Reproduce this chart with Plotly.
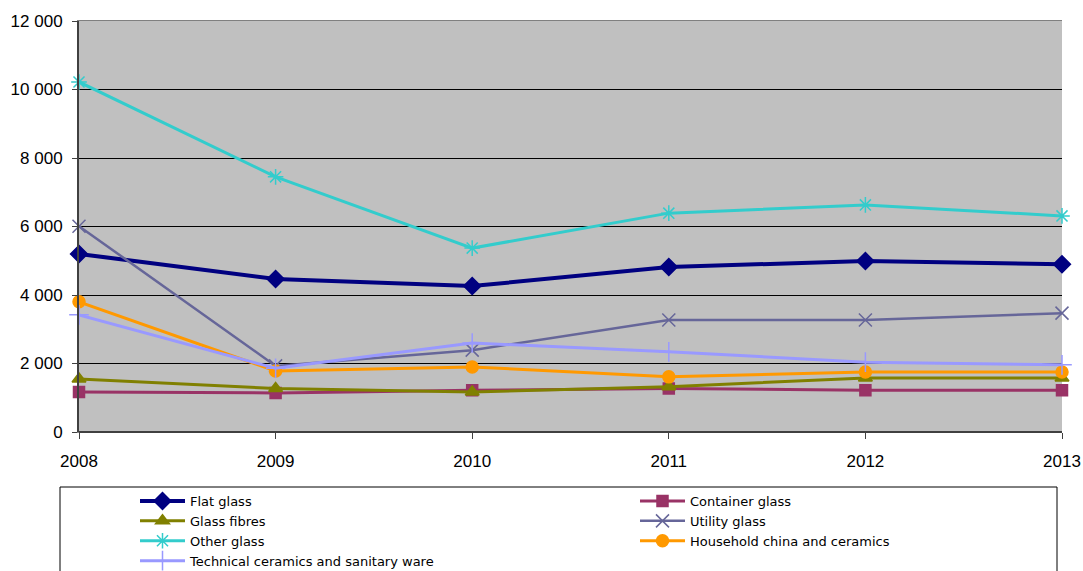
import plotly.graph_objects as go

years = [2008, 2009, 2010, 2011, 2012, 2013]

flat_glass = [5200, 4470, 4260, 4820, 4990, 4900]
container_glass = [1170, 1140, 1220, 1270, 1220, 1220]
glass_fibres = [1550, 1270, 1170, 1320, 1580, 1580]
utility_glass = [6010, 1930, 2390, 3270, 3270, 3470]
other_glass = [10220, 7450, 5370, 6390, 6630, 6310]
household_china = [3800, 1780, 1900, 1610, 1750, 1750]
technical_ceramics = [3420, 1860, 2600, 2340, 2040, 1960]

y_ticks = [0, 2000, 4000, 6000, 8000, 10000, 12000]
y_tick_labels = ["0", "2 000", "4 000", "6 000", "8 000", "10 000", "12 000"]

# name, values, colour, line width, marker symbol, marker size, legend column
series = [
    ("Flat glass", flat_glass, "#000080", 4, "diamond", 13, "legend"),
    ("Container glass", container_glass, "#993366", 3, "square", 11, "legend2"),
    ("Glass fibres", glass_fibres, "#808000", 3, "triangle-up", 12, "legend"),
    ("Utility glass", utility_glass, "#666699", 2.5, "x-thin-open", 13, "legend2"),
    ("Other glass", other_glass, "#33CCCC", 3, "asterisk-open", 13, "legend"),
    ("Household china and ceramics", household_china, "#FF9900", 3, "circle", 12, "legend2"),
    ("Technical ceramics and sanitary ware", technical_ceramics, "#9999FF", 3, "cross-thin-open", 14, "legend"),
]

fig = go.Figure()
for name, vals, color, width, symbol, size, leg in series:
    fig.add_trace(go.Scatter(
        x=years, y=vals, name=name, mode="lines+markers",
        line=dict(color=color, width=width),
        marker=dict(symbol=symbol, size=size, color=color,
                    line=dict(color=color, width=1.5)),
        cliponaxis=False,
        legend=leg,
    ))

L, R, T, B = 79, 1062, 21, 432
W, H = 1083, 571

legend_style = dict(
    orientation="v",
    xref="container", yref="container",
    xanchor="left", yanchor="top",
    itemwidth=45,
    tracegroupgap=0,
    font=dict(family="DejaVu Sans, sans-serif", size=13),
    bgcolor="rgba(0,0,0,0)",
    borderwidth=0,
)

fig.update_layout(
    width=W, height=H,
    margin=dict(l=L, r=W - R, t=T, b=H - B, autoexpand=False),
    paper_bgcolor="white",
    plot_bgcolor="#C0C0C0",
    font=dict(family="Liberation Sans, Arial, sans-serif", size=17, color="black"),
    showlegend=True,
    legend=dict(x=135 / W, y=1 - 486 / H, **legend_style),
    legend2=dict(x=635 / W, y=1 - 486 / H, **legend_style),
    xaxis=dict(
        range=[2008, 2013], tickvals=years, ticktext=[str(y) for y in years],
        showgrid=False, zeroline=False, automargin=False,
        showline=True, linecolor="#808080", linewidth=1, mirror=True,
        ticks="outside", ticklen=6, tickcolor="#404040",
        ticklabelstandoff=8,
    ),
    yaxis=dict(
        range=[0, 12000], tickvals=y_ticks, ticktext=y_tick_labels,
        showgrid=True, gridcolor="black", gridwidth=1, zeroline=False, automargin=False,
        showline=True, linecolor="#404040", linewidth=2, mirror=False,
        ticks="outside", ticklen=5, tickcolor="#404040",
        ticklabelstandoff=6,
    ),
    shapes=[
        dict(type="line", xref="paper", yref="paper", x0=0, x1=1, y0=0, y1=0,
             line=dict(color="#404040", width=2)),
        dict(type="rect", xref="paper", yref="paper",
             x0=(60 - L) / (R - L), x1=(1057 - L) / (R - L),
             y0=(B - 487) / (B - T), y1=(B - 600) / (B - T),
             line=dict(color="black", width=1), fillcolor="rgba(0,0,0,0)",
             layer="above"),
    ],
)

fig.write_html("out.html")
